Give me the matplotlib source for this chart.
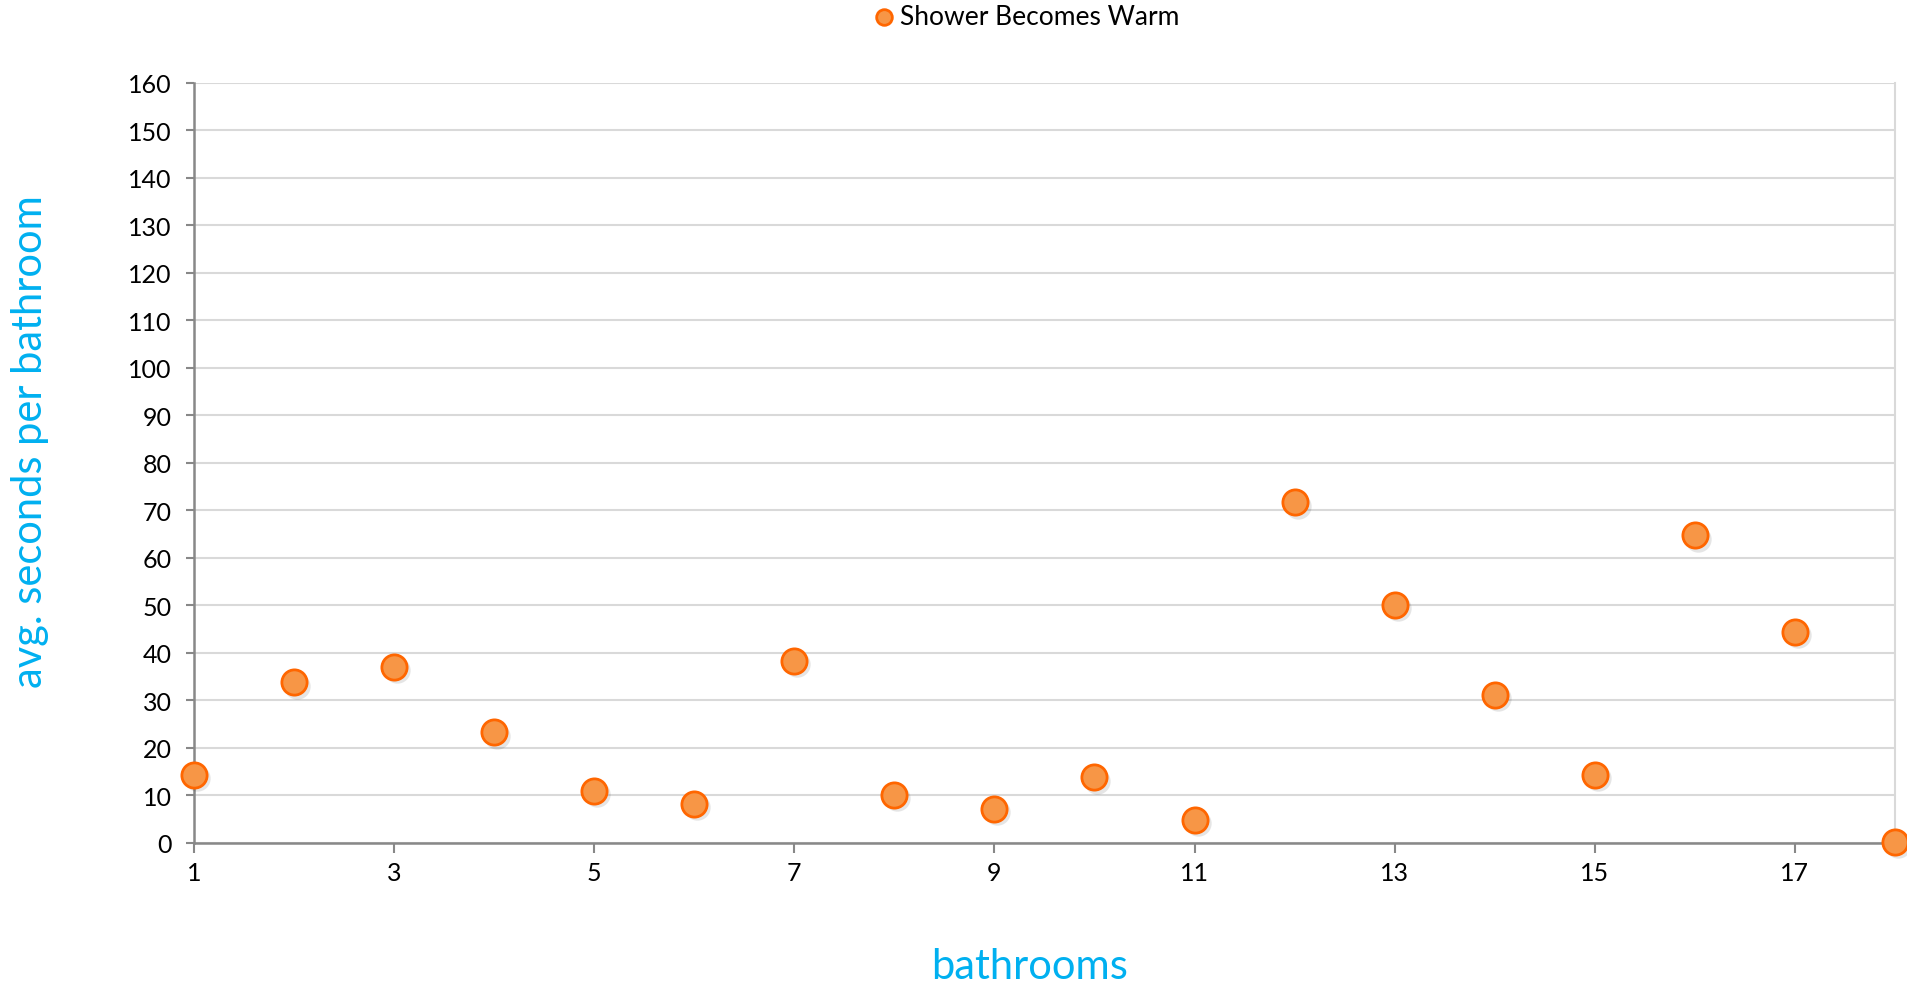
import numpy as np
import matplotlib.pyplot as plt

# average seconds until the shower runs warm, per bathroom
bathrooms = list(range(1, 19))
avg_seconds = [14.3, 33.8, 37.1, 23.3, 11.0, 8.2, 38.4, 10.2, 7.2,
               13.8, 4.9, 71.7, 50.2, 31.2, 14.3, 64.8, 44.5, 0.3]

series_name = "Shower Becomes Warm"
x_ticks = [1, 3, 5, 7, 9, 11, 13, 15, 17]
y_ticks = list(range(0, 161, 10))

plt.rcParams['font.family'] = ['Lato', 'DejaVu Sans']

fig = plt.figure(figsize=(19.07, 9.87), dpi=100)
ax = fig.add_axes([0.1017, 0.1449, 0.892, 0.77])

fill = '#F79646'
edge = '#FF6600'

# soft drop shadow under each marker
ax.scatter(np.array(bathrooms) + 0.03, np.array(avg_seconds) - 0.7, s=360,
           color='#000000', alpha=0.10, linewidths=0, zorder=3, clip_on=False)
ax.scatter(bathrooms, avg_seconds, s=330, color=fill, edgecolors=edge,
           linewidths=2.0, zorder=4, clip_on=False, label=series_name)

ax.set_xlim(1, 18)
ax.set_ylim(0, 160)
ax.set_xticks(x_ticks)
ax.set_yticks(y_ticks)
ax.tick_params(axis='both', labelsize=18, colors='#888888', labelcolor='black')
ax.tick_params(axis='x', direction='out', length=7, width=1.5, pad=6)
ax.tick_params(axis='y', direction='out', length=6, width=1.5, pad=10)

ax.grid(axis='y', color='#D9D9D9', linewidth=1.5)
ax.set_axisbelow(True)

for side in ['left', 'bottom']:
    ax.spines[side].set_color('#888888')
    ax.spines[side].set_linewidth(1.8)
ax.spines['top'].set_visible(False)
ax.spines['right'].set_color('#D9D9D9')
ax.spines['right'].set_linewidth(1.5)

ax.set_xlabel('bathrooms', fontsize=30, color='#00B0F0', va='center')
ax.xaxis.set_label_coords(0.491, -0.162)
ax.set_ylabel('avg. seconds per bathroom', fontsize=30, color='#00B0F0', va='center')
ax.yaxis.set_label_coords(-0.0964, 0.53)

ax.legend(loc='center', bbox_to_anchor=(0.49, 1.087), frameon=False,
          fontsize=19, markerscale=0.62, handlelength=0.7, handletextpad=0.25,
          borderaxespad=0)

fig.savefig('out.png', dpi=100)
